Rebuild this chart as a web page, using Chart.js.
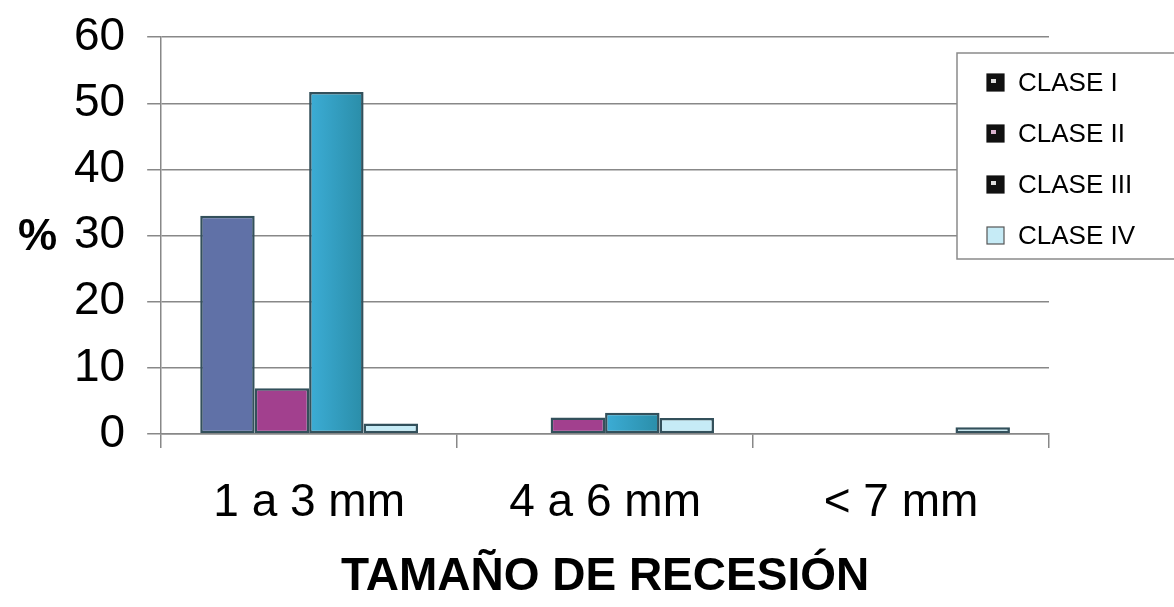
<!DOCTYPE html>
<html>
<head>
<meta charset="utf-8">
<script src="https://cdn.jsdelivr.net/npm/chart.js@4/dist/chart.umd.min.js"></script>
<style>
  html, body { margin: 0; padding: 0; background: #ffffff; }
  #wrap { width: 1174px; height: 607px; }
</style>
</head>
<body>
<div id="wrap"><canvas id="c" width="1174" height="607"></canvas></div>
<script>
// Recession size categories and percentage per class
const categories = ['1 a 3 mm', '4 a 6 mm', '< 7 mm'];
const seriesNames = ['CLASE I', 'CLASE II', 'CLASE III', 'CLASE IV'];
const claseI   = [33.0, 0, 0];
const claseII  = [6.9, 2.5, 0];
const claseIII = [51.7, 3.2, 0];
const claseIV  = [1.6, 2.4, 1.0];
const yTicks = [0, 10, 20, 30, 40, 50, 60];
const xTitle = 'TAMAÑO DE RECESIÓN';
const yTitle = '%';

const fills = ['#6071a7', '#a2408e', '#33a1c5', '#c6ebf6'];
// light-to-dark horizontal shading for the third series
const shade3 = ['#3cadd6', '#2a8da8'];
const edge = '#33505b';
const FONT = '"Liberation Sans", Arial, sans-serif';
const CAT_PCT = 0.736;

// Fill for a bar; series 3 gets a left-to-right gradient across its own width
function barFill(context) {
  const i = context.datasetIndex;
  if (i !== 2) return fills[i];
  const chart = context.chart;
  const xs = chart.scales.x;
  if (!chart.chartArea || !xs || context.dataIndex === undefined) return fills[i];
  const n = chart.data.datasets.length;
  const cat = xs.width / chart.data.labels.length;
  const bw = cat * CAT_PCT / n;
  const left = xs.getPixelForValue(context.dataIndex) - cat * CAT_PCT / 2 + i * bw;
  if (!isFinite(left)) return fills[i];
  const g = chart.ctx.createLinearGradient(left, 0, left + bw, 0);
  g.addColorStop(0, shade3[0]);
  g.addColorStop(1, shade3[1]);
  return g;
}

// Boxed legend drawn over the plot, top right
const boxLegend = {
  id: 'boxLegend',
  afterDraw(chart) {
    const ctx = chart.ctx;
    ctx.save();
    ctx.fillStyle = '#ffffff';
    ctx.fillRect(957, 53, 230, 206);
    ctx.strokeStyle = '#8a8a8a';
    ctx.lineWidth = 1.5;
    ctx.strokeRect(957, 53, 230, 206);
    const rows = [83, 134, 185, 236];
    chart.data.datasets.forEach((ds, i) => {
      const y = rows[i];
      const last = i === chart.data.datasets.length - 1;
      ctx.fillStyle = last ? fills[i] : '#111111';
      ctx.fillRect(987, y - 9, 17, 17);
      ctx.strokeStyle = last ? '#555555' : '#111111';
      ctx.lineWidth = 1.2;
      ctx.strokeRect(987, y - 9, 17, 17);
      if (!last) {
        ctx.fillStyle = i === 1 ? '#d9b3cf' : '#dddddd';
        ctx.fillRect(991, y - 4, 5, 4);
      }
      ctx.fillStyle = '#000000';
      ctx.font = '26px ' + FONT;
      ctx.textBaseline = 'middle';
      ctx.textAlign = 'left';
      ctx.fillText(ds.label, 1018, y + 1);
    });
    ctx.restore();
  }
};

// Horizontal "%" label beside the value axis
const yLabel = {
  id: 'yLabel',
  afterDraw(chart) {
    const ctx = chart.ctx;
    const y = chart.scales.y.getPixelForValue(30);
    ctx.save();
    ctx.fillStyle = '#000000';
    ctx.font = 'bold 44px ' + FONT;
    ctx.textBaseline = 'middle';
    ctx.textAlign = 'left';
    ctx.fillText(yTitle, 18, y + 2);
    ctx.restore();
  }
};

const series = [claseI, claseII, claseIII, claseIV];

new Chart(document.getElementById('c'), {
  type: 'bar',
  data: {
    labels: categories,
    datasets: series.map((vals, i) => ({
      label: seriesNames[i],
      data: vals,
      backgroundColor: barFill,
      borderColor: edge,
      borderWidth: 2.5,
      borderSkipped: false
    }))
  },
  options: {
    responsive: false,
    animation: false,
    devicePixelRatio: 1,
    layout: { padding: { left: 52, right: 125, top: 3, bottom: 11 } },
    plugins: {
      legend: { display: false },
      tooltip: { enabled: false },
      title: { display: false }
    },
    datasets: {
      bar: { categoryPercentage: CAT_PCT, barPercentage: 1.0 }
    },
    scales: {
      x: {
        grid: {
          display: true,
          drawOnChartArea: false,
          drawTicks: true,
          tickLength: 14,
          color: '#888888',
          lineWidth: 1.5
        },
        border: { display: true, color: '#888888', width: 1.5 },
        ticks: {
          color: '#000000',
          font: { family: FONT, size: 46, lineHeight: 0.94 },
          padding: 34
        },
        title: {
          display: true,
          text: xTitle,
          color: '#000000',
          font: { family: FONT, size: 46, weight: 'bold', lineHeight: 0.8 },
          padding: { top: 0, bottom: 0 }
        }
      },
      y: {
        min: 0,
        max: 60,
        afterBuildTicks(scale) {
          scale.ticks = yTicks.map(v => ({ value: v }));
        },
        grid: {
          color: '#888888',
          lineWidth: 1.5,
          tickLength: 14,
          drawTicks: true
        },
        border: { display: true, color: '#888888', width: 1.5 },
        ticks: {
          color: '#000000',
          font: { family: FONT, size: 46, lineHeight: 0.66 },
          padding: 22
        }
      }
    }
  },
  plugins: [boxLegend, yLabel]
});
</script>
</body>
</html>
